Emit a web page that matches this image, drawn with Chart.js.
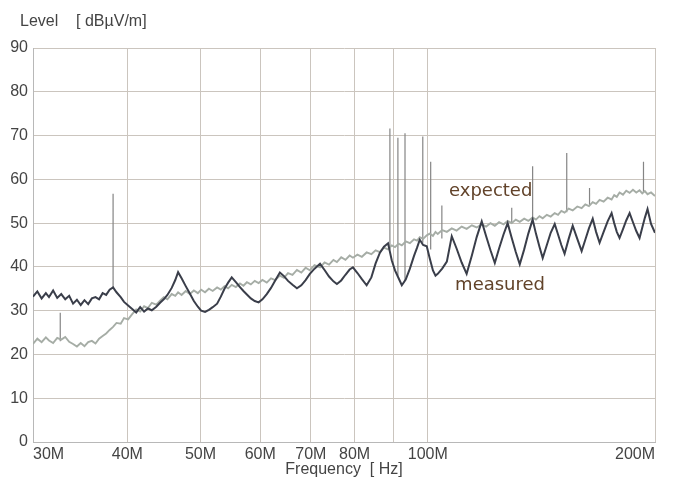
<!DOCTYPE html>
<html>
<head>
<meta charset="utf-8">
<style>body { margin: 0; background: #fff; }</style>
</head>
<body>
<canvas id="chartContainer" width="674" height="482"></canvas>
<script src="https://cdn.jsdelivr.net/npm/chart.js@4/dist/chart.umd.min.js"></script>
<script>
// sweep frequencies in MHz
const freqMHz = [
    30.0, 30.4, 30.8, 31.2, 31.5, 31.9, 32.3, 32.7, 33.1, 33.5, 33.9, 34.3, 34.7, 35.1, 35.5, 35.9, 36.3, 36.7, 37.1, 37.5, 37.9, 38.3, 38.7, 39.2, 39.6, 40.1,
    40.6, 41.1, 41.6, 42.1, 42.6, 43.1, 43.7, 44.2, 44.7, 45.2, 45.8, 46.3, 46.7, 47.2, 47.8, 48.4, 49.0, 49.6, 50.1,
    50.7, 51.3, 51.9, 52.6, 53.2, 53.8, 54.4, 55.0, 55.7, 56.4, 57.0, 57.6, 58.3, 59.0, 59.7,
    60.4, 61.2, 62.0, 62.8, 63.7, 64.5, 65.3, 66.2, 67.1, 68.0, 68.9, 69.8, 70.8, 72.0, 73.0, 74.0, 75.0, 75.8, 76.8, 77.8, 78.8, 79.6,
    80.7, 81.8, 83.0, 84.2, 85.3, 86.4, 87.5, 88.6, 89.6, 90.5, 91.5, 92.4, 93.5, 94.7, 95.9, 96.8, 97.6, 98.6, 99.7,
    100.6, 101.6, 102.4, 103.1, 104.5, 106.0, 107.6, 109.2, 110.9, 112.6, 114.4, 116.1, 117.9, 119.5, 121.1, 122.7, 124.3, 126.0, 127.6, 129.2,
    130.8, 132.4, 134.2, 135.9, 137.7, 139.1, 140.6, 142.0, 143.8, 145.5, 147.3, 148.8, 150.3, 151.8, 153.7, 155.6, 157.8, 159.9, 161.7, 163.5,
    165.4, 167.1, 168.9, 171.0, 173.1, 175.2, 176.6, 178.0, 179.5, 181.4, 183.2, 185.1, 187.0, 188.9, 190.8, 192.4, 193.9, 195.5, 197.6, 200.0
];

// dBuV/m
const measured = [
    33.2, 34.4, 32.8, 34.0, 33.1, 34.6, 32.9, 33.8, 32.6, 33.4, 31.6, 32.5, 31.3, 32.4, 31.5, 32.8, 33.1, 32.6, 34.0, 33.6, 34.8, 35.3, 34.2, 33.1, 32.0, 31.2,
    30.4, 29.6, 30.8, 29.8, 30.5, 30.1, 30.9, 31.8, 32.6, 33.6, 35.2, 37.0, 38.8, 37.4, 35.6, 33.9, 32.2, 30.9, 30.0,
    29.7, 30.2, 30.8, 31.6, 33.2, 35.0, 36.4, 37.6, 36.5, 35.4, 34.5, 33.7, 32.8, 32.2, 31.9,
    32.6, 33.8, 35.2, 36.9, 38.7, 37.9, 36.8, 35.9, 35.1, 35.8, 37.0, 38.4, 39.6, 40.7, 39.3, 37.8, 36.7, 36.1, 36.9, 38.2, 39.4, 39.9,
    38.6, 37.2, 35.8, 37.6, 40.8, 43.2, 44.6, 45.4, 41.5, 39.2, 37.4, 35.8, 37.1, 39.6, 42.5, 44.4, 46.2, 45.0, 44.7,
    42.0, 39.2, 38.0, 38.4, 39.6, 41.2, 47.0, 44.2, 41.0, 38.4, 42.6, 46.8, 50.4, 47.0, 43.8, 40.9, 44.2, 47.4, 50.0, 46.6,
    43.4, 40.6, 44.0, 47.6, 50.8, 47.6, 44.6, 42.0, 45.0, 47.8, 49.8, 47.4, 45.0, 43.0, 46.4, 49.4, 46.4, 43.6, 46.2, 48.8,
    51.0, 48.0, 45.5, 48.0, 50.4, 52.3, 50.0, 48.0, 46.6, 48.6, 50.6, 52.3, 50.2, 48.2, 46.6, 49.0, 51.2, 53.2, 49.8, 47.8
];

const expected = [
    22.4, 23.6, 22.8, 23.9, 23.2, 22.6, 23.8, 23.4, 24.0, 22.9, 22.4, 21.8, 22.6, 21.9, 22.8, 23.1, 22.5, 23.6, 24.2, 24.8, 25.6, 26.3, 27.2, 27.0, 28.3, 28.0,
    29.2, 30.3, 29.8, 31.0, 30.6, 31.8, 31.4, 32.3, 33.1, 32.6, 33.8, 33.4, 34.2, 33.6, 34.5, 33.8, 34.6, 34.0, 34.8,
    34.2, 35.0, 34.5, 35.3, 34.8, 35.6, 35.1, 35.9, 35.4, 36.2, 35.7, 36.5, 36.0, 36.8, 36.3,
    37.0, 36.4, 37.4, 37.0, 38.0, 37.5, 38.6, 38.2, 39.3, 38.7, 39.8, 39.2, 40.4, 39.9, 41.0, 40.5, 41.6, 41.1, 42.2, 41.6, 42.6, 42.1,
    42.8, 42.3, 43.3, 42.9, 43.8, 43.4, 44.4, 44.0, 44.9, 44.5, 45.3, 44.9, 45.8, 45.4, 46.3, 46.0, 46.8, 46.4, 47.2,
    47.6, 47.1, 48.0, 47.5, 48.4, 48.0, 48.8, 48.3, 49.2, 48.7, 49.5, 49.0, 49.7, 49.2, 50.0, 49.4, 50.2, 49.7, 50.5, 50.0,
    50.8, 50.3, 51.0, 50.5, 51.3, 50.8, 51.6, 51.1, 51.9, 51.5, 52.3, 51.9, 52.8, 52.4, 53.3, 52.9, 53.8, 53.4, 54.3, 53.9,
    54.8, 54.4, 55.3, 54.9, 55.8, 55.4, 56.4, 56.0, 57.0, 56.5, 57.4, 56.9, 57.6, 57.0, 57.5, 56.8, 57.3, 56.6, 57.0, 56.2
];

// narrow emission peaks
const spikeFreq = [32.6, 38.3, 89.1, 91.3, 93.3, 98.5, 100.9, 104.4, 129.2, 137.7, 152.8, 163.8, 193.1];
const spikeBase = [23.0, 35.0, 44.0, 38.0, 37.0, 45.5, 44.0, 46.5, 50.0, 50.5, 52.5, 54.0, 57.0];
const spikeTop  = [29.5, 56.7, 71.6, 69.5, 70.5, 69.8, 64.0, 54.0, 53.5, 63.0, 66.0, 58.0, 64.0];

const xTickValues = [30, 40, 50, 60, 70, 80, 90, 100, 200];
const xTickLabels = ['30M', '40M', '50M', '60M', '70M', '80M', '', '100M', '200M'];

const yTitle = 'Level    [ dBµV/m]';
const noteText = ['expected', 'measured'];
const noteFreq = [106.7, 108.7];
const noteLevel = [56.3, 34.7];

const fontFamily = '"Liberation Sans", Arial, sans-serif';
const axisFont = { family: fontFamily, size: 16, weight: 'normal' };
const gridColor = '#cbc5be';
const borderColor = '#b8b8b8';

const toPoints = vals => freqMHz.map((f, i) => ({ x: f, y: vals[i] }));
const spikePoints = spikeFreq.flatMap((f, i) => [
    { x: f, y: spikeBase[i] }, { x: f, y: spikeTop[i] }, { x: f, y: null }
]);

// unit title top-left and curve names next to the traces
const notes = {
    id: 'notes',
    afterDatasetsDraw(chart) {
        const ctx = chart.ctx;
        const xs = chart.scales.x, ys = chart.scales.y;
        ctx.save();
        ctx.font = '16px ' + fontFamily;
        ctx.fillStyle = '#444';
        ctx.textBaseline = 'middle';
        ctx.fillText(yTitle, 20, 22);

        ctx.font = '18px "DejaVu Sans", sans-serif';
        ctx.fillStyle = '#62432a';
        ctx.textBaseline = 'alphabetic';
        noteText.forEach((t, i) => {
            ctx.fillText(t, xs.getPixelForValue(noteFreq[i]), ys.getPixelForValue(noteLevel[i]));
        });
        ctx.restore();
    }
};

new Chart('chartContainer', {
    type: 'line',
    data: {
        datasets: [
            { label: 'measured', data: toPoints(measured), borderColor: '#3a3e4a', borderWidth: 2 },
            { label: 'expected', data: toPoints(expected), borderColor: '#a6ada6', borderWidth: 1.9 },
            { label: 'spikes', data: spikePoints, borderColor: '#858585', borderWidth: 1.2 }
        ]
    },
    options: {
        responsive: false,
        animation: false,
        elements: { point: { radius: 0 }, line: { tension: 0 } },
        layout: { padding: { left: 0, right: 19, top: 48, bottom: 0 } },
        plugins: {
            legend: { display: false },
            tooltip: { enabled: false }
        },
        scales: {
            x: {
                type: 'logarithmic',
                min: 30,
                max: 200,
                afterBuildTicks: s => { s.ticks = xTickValues.map(v => ({ value: v })); },
                afterFit: s => { s.height = 40; },
                grid: { color: gridColor, drawTicks: false },
                border: { color: borderColor },
                ticks: {
                    autoSkip: false,
                    maxRotation: 0,
                    align: 'inner',
                    padding: 3,
                    color: '#444',
                    font: axisFont,
                    callback: (v, i) => xTickLabels[i]
                },
                title: {
                    display: true,
                    text: 'Frequency  [ Hz]',
                    color: '#444',
                    font: axisFont,
                    padding: { top: 0, bottom: 3 }
                }
            },
            y: {
                min: 0,
                max: 90,
                afterFit: s => { s.width = 33; },
                grid: { color: gridColor, drawTicks: false },
                border: { color: borderColor },
                ticks: { stepSize: 10, padding: 5, color: '#444', font: axisFont }
            }
        }
    },
    plugins: [notes]
});
</script>
</body>
</html>
